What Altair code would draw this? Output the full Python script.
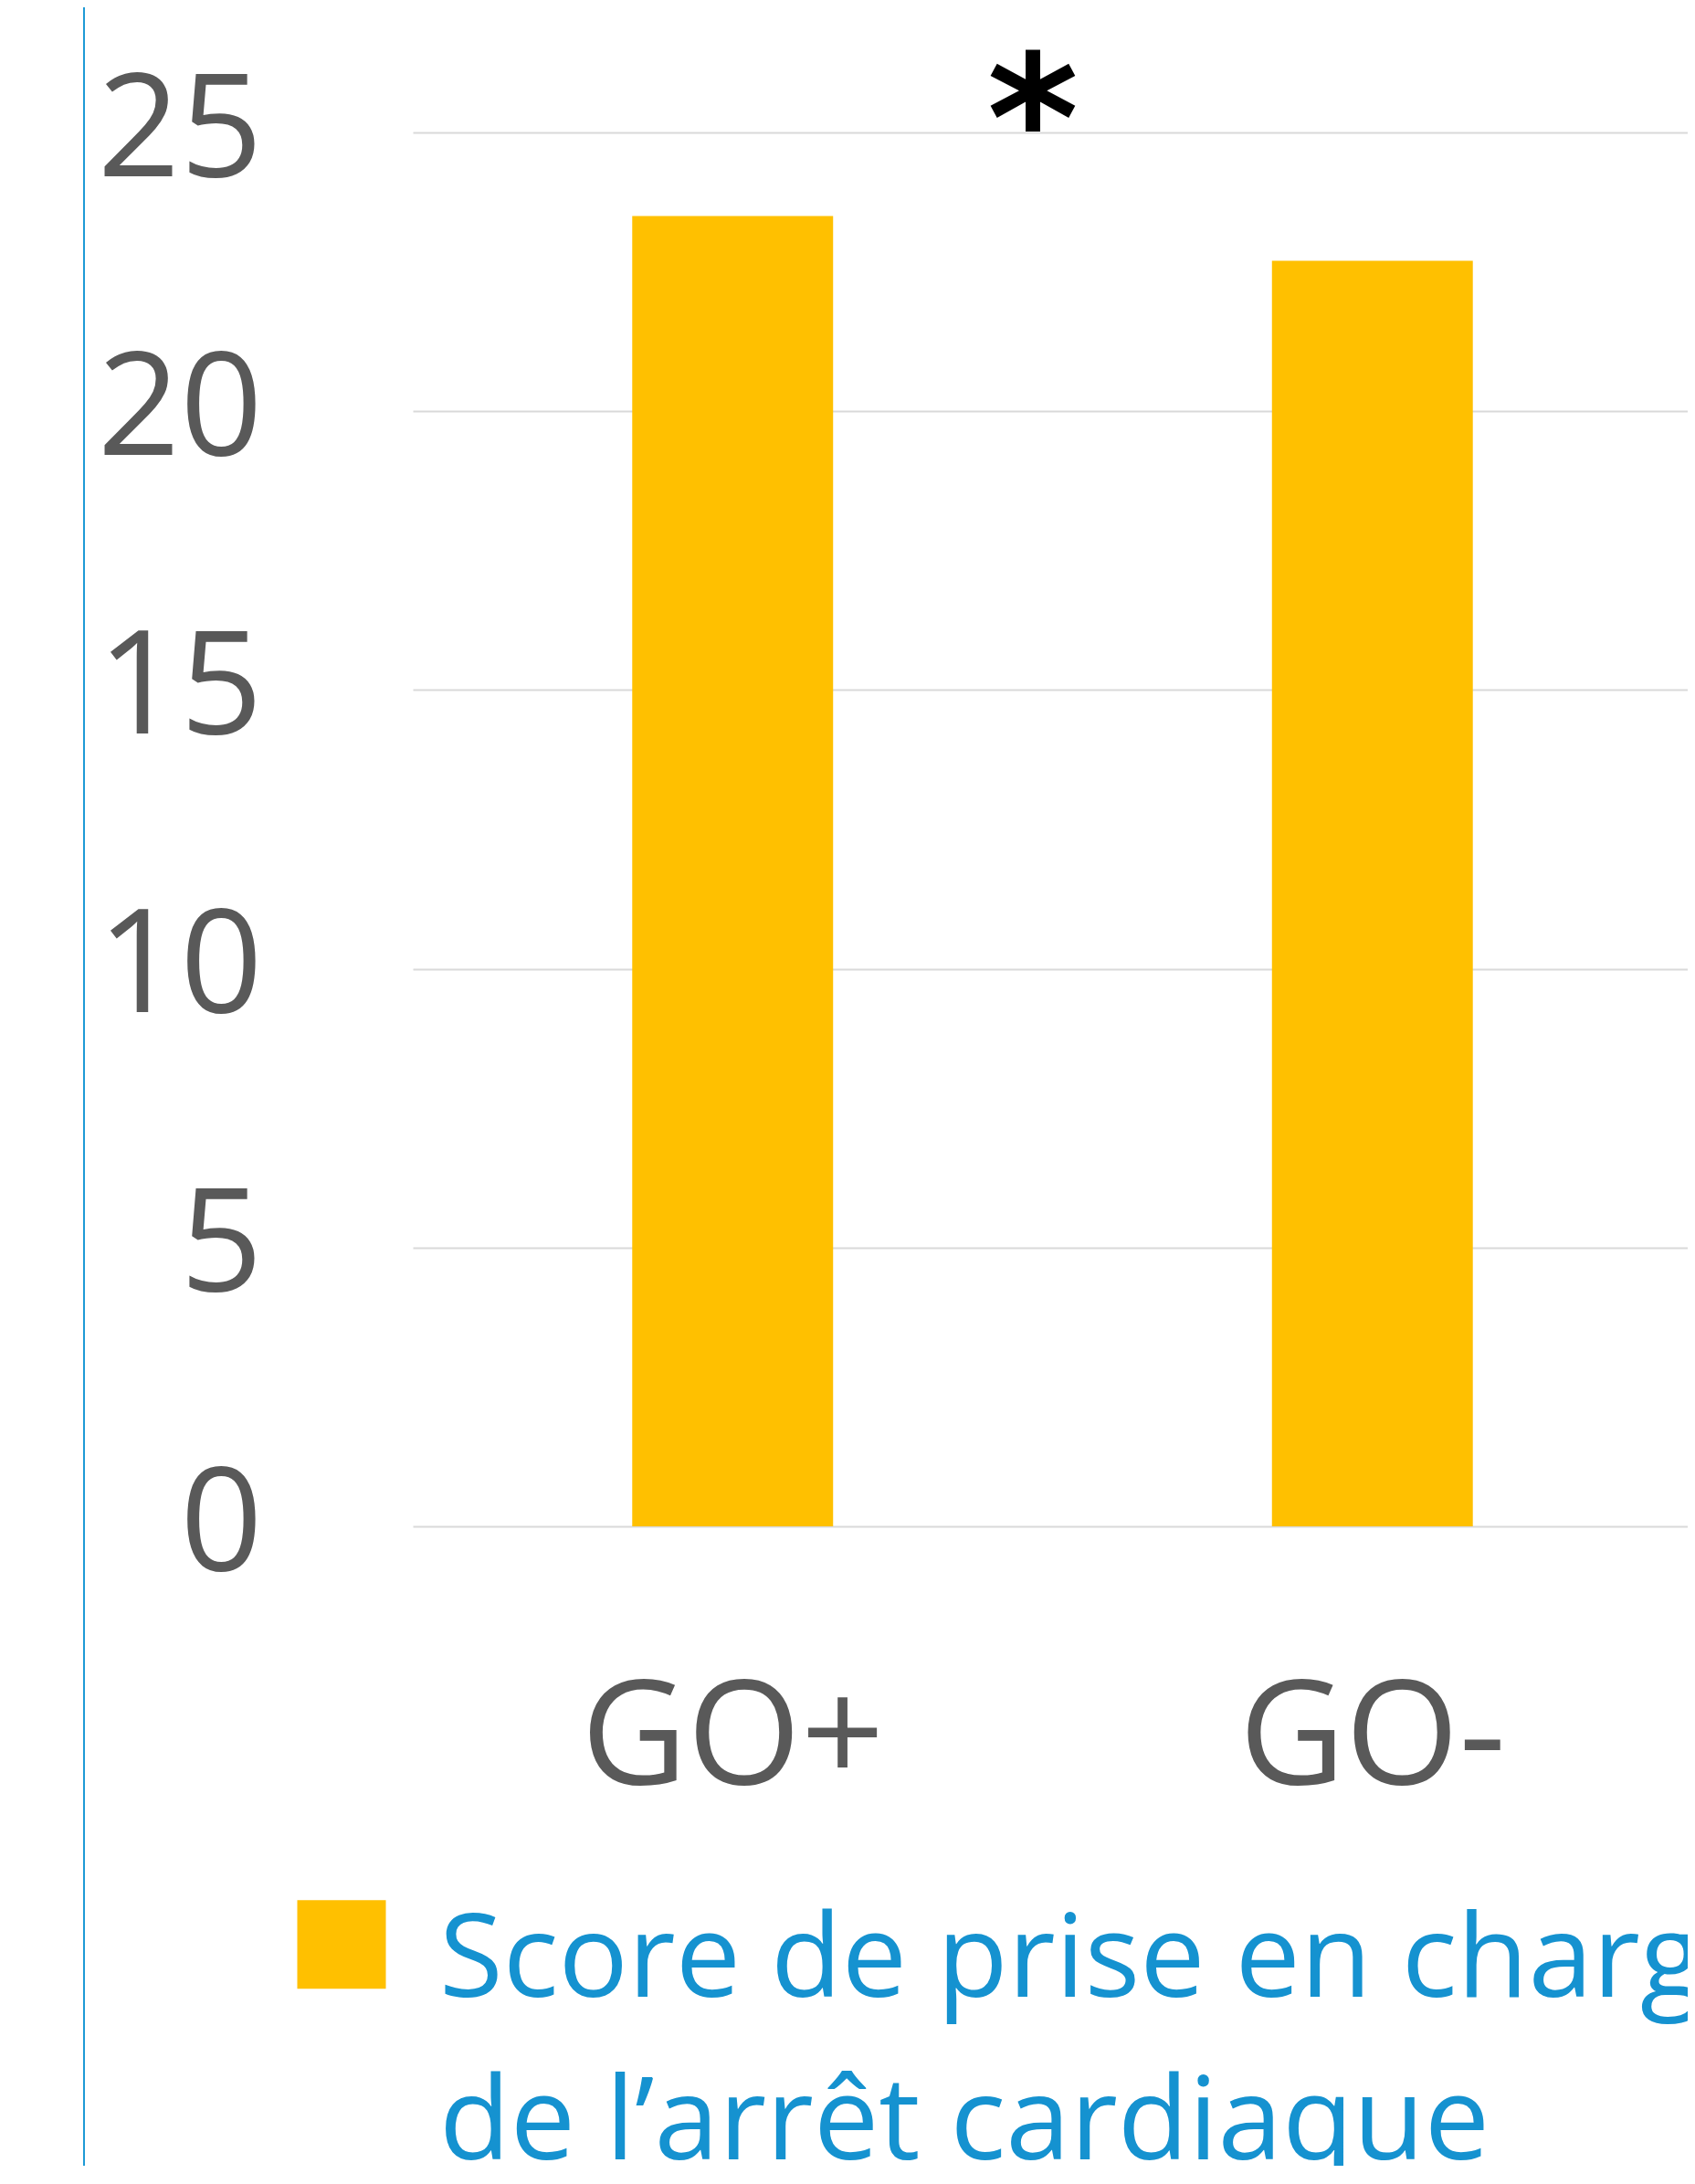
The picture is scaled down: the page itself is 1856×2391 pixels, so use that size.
import altair as alt
import pandas as pd

# ---- data ----
categories = ["GO+", "GO-"]
values = [23.5, 22.7]
series_name = "Score de prise en charge de l’arrêt cardiaque"
series_lines = ["Score de prise en charge", "de l’arrêt cardiaque"]
y_ticks = [0, 5, 10, 15, 20, 25]
annotation = ["*"]

df = pd.DataFrame({"groupe": categories, "score": values, "serie": [series_name] * len(categories)})
ann = pd.DataFrame({"t": annotation})

W, H = 1401, 1526
FONT = "Open Sans"
GREY = "#595959"
BLUE = "#1592D0"

label_expr = "[" + ", ".join("'" + s + "'" for s in series_lines) + "]"

bars = alt.Chart(df).mark_bar().encode(
    x=alt.X(
        "groupe:N",
        sort=categories,
        scale=alt.Scale(paddingInner=0.686, paddingOuter=0.343),
        axis=alt.Axis(
            title=None, labelAngle=0, labelFontSize=160, labelFont=FONT,
            labelColor=GREY, labelPadding=155, ticks=False, domain=False, grid=False,
            labelLimit=2000,
        ),
    ),
    y=alt.Y(
        "score:Q",
        scale=alt.Scale(domain=[0, 25], nice=False),
        axis=alt.Axis(
            title=None, values=y_ticks, labelFontSize=158, labelFont=FONT,
            labelColor=GREY, labelPadding=165, ticks=False, domain=False,
            grid=True, gridColor="#D9D9D9", gridWidth=2, labelLimit=2000,
        ),
    ),
    color=alt.Color(
        "serie:N",
        scale=alt.Scale(range=["#FFC000"]),
        legend=alt.Legend(
            title=None, orient="none", legendX=-141.5, legendY=1977.5, padding=0,
            symbolSize=9409, symbolType="M-1,-2.18H1V-0.18H-1Z", symbolStrokeWidth=0,
            labelOffset=43.5, labelFontSize=127, labelFont=FONT, labelColor=BLUE,
            labelBaseline="alphabetic", labelLimit=4000, labelExpr=label_expr,
        ),
    ),
)

rule = alt.Chart(df).mark_rule(color="#1E9AD6", strokeWidth=2).encode(
    x=alt.value(-360), y=alt.value(-137), y2=alt.value(2363 - 137)
)

star = alt.Chart(ann).mark_text(
    font="DejaVu Sans", fontWeight="bold", fontSize=192, color="#000000",
    align="center", baseline="alphabetic",
).encode(text="t:N", x=alt.value(679), y=alt.value(53))

chart = alt.layer(rule, bars, star).properties(
    width=W, height=H,
    padding={"left": 444, "top": 137, "right": -5, "bottom": 700},
    autosize=alt.AutoSizeParams(type="none"),
).configure(
    view=alt.ViewConfig(stroke=None),
    style={"guide-label": {"lineHeight": 178}},
)

chart.save("out.html", embed_options={"renderer": "svg", "actions": False})
